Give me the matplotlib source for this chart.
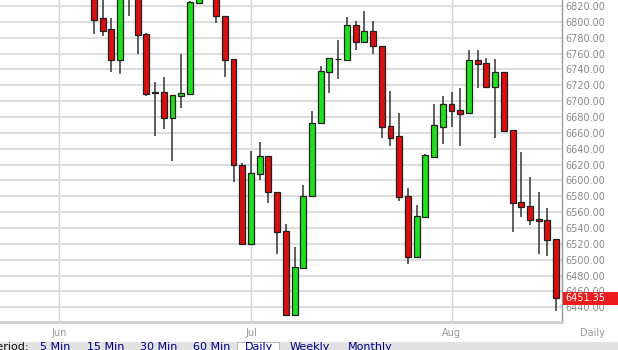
import matplotlib
matplotlib.use("Agg")
import matplotlib.pyplot as plt
import matplotlib.transforms as mtransforms
from matplotlib.patches import Rectangle

# daily OHLC (first candles run above the visible range)
opens = [6845, 6805, 6791, 6752, 6835, 6840, 6785, 6710.5, 6711, 6679,
         6706.5, 6709.4, 6824, 6838, 6830, 6808, 6753, 6620, 6520, 6608,
         6631, 6585, 6536, 6430, 6489, 6580, 6672, 6737, 6753, 6752,
         6796, 6774, 6789, 6770, 6669, 6656, 6580, 6503, 6554, 6630,
         6668, 6697, 6689, 6685, 6752, 6748, 6717.5, 6737, 6664, 6572.4,
         6568, 6552, 6550, 6526]
highs = [6850, 6835, 6805, 6850, 6860, 6850, 6786, 6724, 6731, 6708,
         6759.5, 6826, 6845, 6860, 6835, 6808, 6753, 6622, 6637, 6648,
         6631, 6585, 6545, 6516, 6594, 6688, 6744, 6754, 6777, 6806.5,
         6801, 6814, 6801, 6770, 6713, 6685, 6590, 6569, 6633, 6697,
         6706, 6711.5, 6716, 6765, 6764, 6755, 6753, 6737, 6664, 6636,
         6604, 6586, 6565, 6526]
lows = [6785, 6782, 6737, 6734, 6807, 6760, 6707, 6656, 6665, 6625,
        6691, 6709, 6823, 6832, 6798, 6731, 6598, 6519, 6519, 6601,
        6571, 6507, 6430, 6430, 6489, 6580, 6672, 6710, 6728, 6752,
        6764, 6774, 6759, 6653, 6644, 6574, 6495, 6503, 6554, 6630,
        6646, 6668, 6644, 6685, 6717, 6717.5, 6654, 6662, 6535, 6553.5,
        6544, 6507, 6505, 6435]
closes = [6803, 6789, 6752, 6840, 6850, 6784, 6709, 6710, 6679, 6708,
          6710.7, 6825, 6835, 6850, 6808, 6752, 6619, 6520, 6609, 6631,
          6585, 6535, 6430, 6491, 6581, 6673, 6738, 6754, 6752.8, 6796,
          6774, 6789, 6769, 6667, 6654, 6579, 6503, 6555, 6632, 6670,
          6697, 6687, 6684, 6752, 6746.5, 6717.5, 6737, 6662, 6571, 6566,
          6550, 6548.5, 6525, 6451.35]

month_labels = ["Jun", "Jul", "Aug"]
month_pos = [-4, 18, 41]
y_ticks = list(range(6440, 6821, 20))

periods = ["Period:", "5 Min", "15 Min", "30 Min", "60 Min", "Daily", "Weekly", "Monthly"]
period_x = [-9, 40, 87, 140, 193, 245, 290, 348]

W, H = 618, 350
fig = plt.figure(figsize=(W / 100, H / 100), dpi=100)
ax = fig.add_axes([0, 28 / H, 562 / W, 322 / H])

x = list(range(len(opens)))
up = [c >= o for o, c in zip(opens, closes)]
colors = ["#1fe01f" if u else "#dc0f0f" for u in up]

ax.vlines(x, lows, highs, color="#333333", lw=1.1, zorder=3)
ax.bar(x, [c - o if abs(c - o) > 0.6 else 0.6 for o, c in zip(opens, closes)],
       bottom=opens, width=0.68, color=colors, edgecolor="#202020", lw=0.9, zorder=4)

ax.set_xlim(-10.78, 53.67)
ax.set_ylim(6421.5, 6827.6)

ax.set_yticks(y_ticks)
ax.set_yticklabels([f"{v:.2f}" for v in y_ticks])
ax.yaxis.tick_right()
ax.tick_params(axis="y", length=0, pad=2.6, labelsize=7, labelcolor="#8a8a8a")
ax.set_xticks(month_pos)
ax.set_xticklabels(month_labels)
ax.tick_params(axis="x", length=0, pad=4.5, labelsize=7, labelcolor="#999999")

ax.grid(axis="y", color="#dddddd", lw=1.5, zorder=0)
ax.grid(axis="x", color="#d4d4d4", lw=1, zorder=0)
ax.set_axisbelow(True)

for s in ["top", "left"]:
    ax.spines[s].set_visible(False)
ax.spines["right"].set_color("#9a9a9a")
ax.spines["right"].set_linewidth(1)
ax.spines["bottom"].set_color("#cfcfcf")
ax.spines["bottom"].set_linewidth(2)

# last price marker on the axis
trans = mtransforms.blended_transform_factory(ax.transAxes, ax.transData)
last = closes[-1]
ax.add_patch(Rectangle((1.002, last - 8.3), 0.11, 16.6, transform=trans,
                       facecolor="#ee1c1c", edgecolor="none", clip_on=False, zorder=6))
ax.text(1.006, last, f"{last:.2f}", transform=trans, color="white", fontsize=7,
        va="center", ha="left", zorder=7, clip_on=False)

fig.text(580 / W, 1 - 333 / H, "Daily", color="#999999", fontsize=7, ha="left", va="center")

# period toolbar, cut off at the bottom edge
fig.patches.append(Rectangle((0, 0), 1, 8 / H, transform=fig.transFigure,
                             facecolor="#e2e2e2", edgecolor="none"))
fig.patches.append(Rectangle((237 / W, 0), 42 / W, 8 / H, transform=fig.transFigure,
                             facecolor="white", edgecolor="#bbbbbb", lw=0.8))
for name, px in zip(periods, period_x):
    col = "#111111" if name == "Period:" else "#000088"
    fig.text(px / W, 1 - 342.5 / H, name, color=col, fontsize=8, ha="left", va="top")

fig.savefig("out.png", dpi=100)
